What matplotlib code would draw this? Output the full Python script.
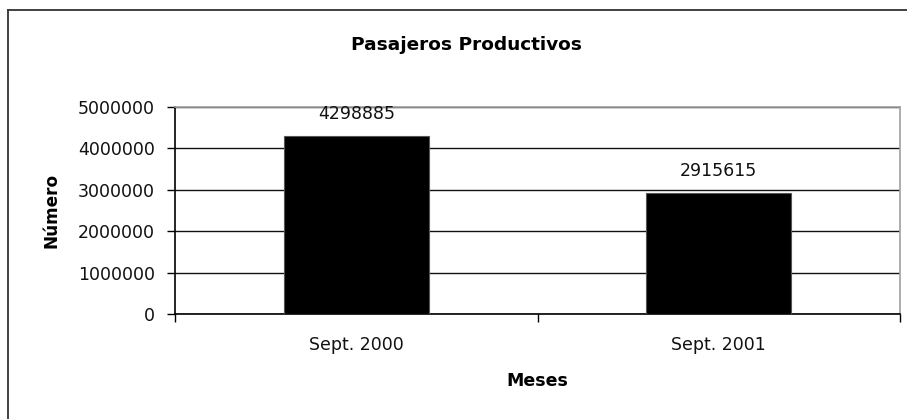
"""
plot.py

Pasajeros Productivos - bar chart.
"""

import matplotlib

matplotlib.use("Agg")

import matplotlib.pyplot as plt
from matplotlib.lines import Line2D


# ---------------------------------------------------------
# data

meses = ["Sept. 2000", "Sept. 2001"]

pasajeros = [4298885, 2915615]

y_ticks = [0, 1000000, 2000000, 3000000, 4000000, 5000000]

# ---------------------------------------------------------

plt.rcParams["font.family"] = ["DejaVu Sans"]

W, H = 907, 419

fig = plt.figure(
    figsize=(W / 100, H / 100),
    dpi=100,
)

# outer chart frame (cut off on right and bottom)
frame_color = "#333333"

fig.add_artist(
    Line2D(
        [8 / W, 1.0],
        [1 - 10 / H, 1 - 10 / H],
        color=frame_color,
        linewidth=1.3,
    )
)

fig.add_artist(
    Line2D(
        [8 / W, 8 / W],
        [0.0, 1 - 10 / H],
        color=frame_color,
        linewidth=1.3,
    )
)

# plot area
left, right = 175, 900
top, bottom = 107, 314

ax = fig.add_axes(
    [
        left / W,
        1 - bottom / H,
        (right - left) / W,
        (bottom - top) / H,
    ]
)

x = list(range(len(meses)))

ax.bar(
    x,
    pasajeros,
    width=0.4,
    color="black",
    edgecolor="#555555",
    linewidth=0.8,
    zorder=3,
)

for xi, val in zip(x, pasajeros):

    ax.annotate(
        str(val),
        (xi, val),
        xytext=(0, 16),
        textcoords="offset points",
        ha="center",
        va="center",
        fontsize=12.5,
        color="#111111",
    )

ax.set_xlim(-0.5, len(meses) - 0.5)
ax.set_ylim(0, 5000000)

# gridlines
ax.set_yticks(y_ticks)
ax.set_yticklabels([str(t) for t in y_ticks])

ax.yaxis.grid(
    True,
    color="#111111",
    linewidth=1.0,
    zorder=0,
)

ax.tick_params(
    axis="y",
    direction="out",
    length=5.8,
    width=1.0,
    pad=8.5,
    labelsize=12.5,
    labelcolor="#111111",
)

# category separators as major ticks, labels as minor ticks
ax.set_xticks([i - 0.5 for i in range(len(meses) + 1)])
ax.set_xticklabels([])

ax.set_xticks(x, minor=True)
ax.set_xticklabels(meses, minor=True)

ax.tick_params(
    axis="x",
    which="major",
    direction="out",
    length=5.8,
    width=1.0,
)

ax.tick_params(
    axis="x",
    which="minor",
    length=0,
    pad=16,
    labelsize=12.5,
    labelcolor="#111111",
)

for side in ["left", "bottom"]:
    ax.spines[side].set_color("black")
    ax.spines[side].set_linewidth(1.2)

for side in ["top", "right"]:
    ax.spines[side].set_color("#a0a0a0")
    ax.spines[side].set_linewidth(1.2)

ax.set_xlabel(
    "Meses",
    fontsize=12.5,
    fontweight="bold",
)

ax.xaxis.set_label_coords(0.5, (bottom - 381) / (bottom - top))
ax.xaxis.label.set_va("center")

ax.set_ylabel(
    "Número",
    fontsize=12.2,
    fontweight="bold",
)

ax.yaxis.set_label_coords((51 - left) / (right - left), 0.5)
ax.yaxis.label.set_va("center")

fig.text(
    466 / W,
    1 - 45 / H,
    "Pasajeros Productivos",
    ha="center",
    va="center",
    fontsize=13.3,
    fontweight="bold",
)

fig.savefig(
    "out.png",
    dpi=100,
)

plt.close(fig)
